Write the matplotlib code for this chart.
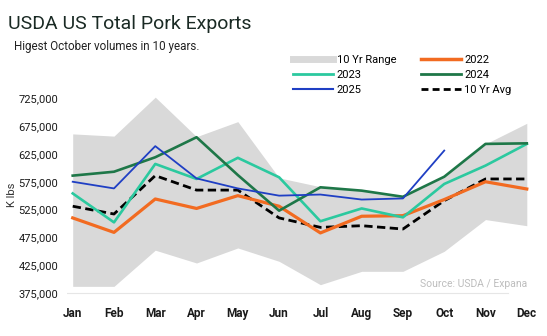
import matplotlib
matplotlib.use("Agg")
import matplotlib.pyplot as plt
from matplotlib.ticker import FuncFormatter
from matplotlib.lines import Line2D

plt.rcParams['font.family'] = ['Roboto', 'DejaVu Sans']

# データ (K lbs)
months = ['Jan', 'Feb', 'Mar', 'Apr', 'May', 'Jun', 'Jul', 'Aug', 'Sep', 'Oct', 'Nov', 'Dec']
range_hi = [661000, 657000, 727000, 656000, 683000, 582000, 566000, 559000, 548000, 584000, 643000, 680000]
range_lo = [387000, 387000, 452000, 429000, 456000, 432000, 390000, 414000, 414000, 450000, 507000, 496000]
y2022 = [510000, 484000, 544000, 527000, 550000, 531000, 483000, 513000, 514000, 543000, 575000, 562000]
y2023 = [554000, 502000, 607000, 580000, 618000, 583000, 504000, 527000, 511000, 571000, 604000, 643000]
y2024 = [586000, 593000, 619000, 655000, 587000, 523000, 565000, 559000, 548000, 584000, 643000, 644000]
y2025 = [575000, 563000, 639000, 581000, 563000, 550000, 552000, 543000, 545000, 631000]
avg10 = [531000, 517000, 586000, 560000, 560000, 510000, 493000, 496000, 490000, 541000, 580000, 580000]
yticks = [375000, 425000, 475000, 525000, 575000, 625000, 675000, 725000]

c_range = '#d9d9d9'
c_2022 = '#f26b21'
c_2023 = '#2bc99f'
c_2024 = '#1e7748'
c_2025 = '#1f3fc4'

fig = plt.figure(figsize=(5.47, 3.36), dpi=100)
ax = fig.add_axes([0.1216, 0.1229, 0.849, 0.5929])

x = list(range(len(months)))
ax.fill_between(x, range_lo, range_hi, color=c_range, lw=0, zorder=1)
ax.plot(x, avg10, color='black', lw=2.0, ls=(0, (3, 1.6)), zorder=3)
ax.plot(x, y2022, color=c_2022, lw=2.3, zorder=4)
ax.plot(x, y2023, color=c_2023, lw=1.9, zorder=5)
ax.plot(x, y2024, color=c_2024, lw=1.9, zorder=6)
ax.plot(x[:len(y2025)], y2025, color=c_2025, lw=1.3, zorder=7)

ax.set_xlim(-0.15, 11.1)
ax.set_ylim(372000, 730000)
ax.set_xticks(x)
ax.set_xticklabels(months, fontsize=8.5, fontweight='bold', color='#1a1a1a')
ax.set_yticks(yticks)
ax.yaxis.set_major_formatter(FuncFormatter(lambda v, p: f"{v:,.0f}"))
for lab in ax.get_yticklabels():
    lab.set_fontsize(8)
    lab.set_color('#1a1a1a')
ax.tick_params(length=0, pad=6)
ax.tick_params(axis='x', pad=9)
for s in ax.spines.values():
    s.set_visible(False)
ax.axhline(375000, xmin=0, xmax=0.95, color='#e6e6e6', lw=0.8, zorder=0)
ax.set_ylabel('K lbs', fontsize=8, color='#333333', labelpad=1)

ax.text(11.0, 383000, 'Source: USDA / Expana', ha='right', va='bottom', fontsize=7.5,
        color='#bdbdbd')

fig.text(0.015, 0.93, 'USDA US Total Pork Exports', fontsize=14, color='#1a2a24', va='center')
fig.text(0.026, 0.862, 'Higest October volumes in 10 years.', fontsize=8.4, color='#222222',
         va='center')

handles = [
    Line2D([0], [0], color=c_range, lw=5),
    Line2D([0], [0], color=c_2023, lw=2),
    Line2D([0], [0], color=c_2025, lw=1.5),
    Line2D([0], [0], color=c_2022, lw=2.5),
    Line2D([0], [0], color=c_2024, lw=2),
    Line2D([0], [0], color='black', lw=2, ls=(0, (2.5, 1.5))),
]
labels = ['10 Yr Range', '2023', '2025', '2022', '2024', '10 Yr Avg']
fig.legend(handles, labels, ncol=2, loc='upper left', bbox_to_anchor=(0.518, 0.865),
           frameon=False, prop={'size': 8},
           handlelength=3.6, handletextpad=0.3, columnspacing=2.2, labelspacing=0.42)

fig.savefig('out.png', dpi=100)
